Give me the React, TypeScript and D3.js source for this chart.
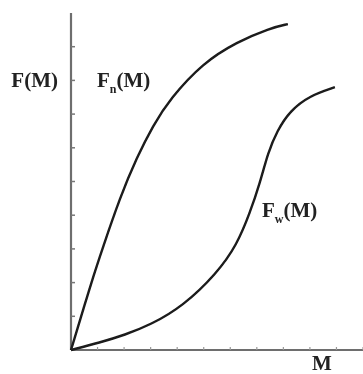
import { useEffect, useRef } from 'react';
import * as d3 from 'd3';

// Fn(M): rises fast from the origin, then levels off
const fnM = [0, 0.83, 1.17, 1.85, 2.49, 3.09, 3.73, 4.97, 6.25, 7.49, 8.17];
const fnF = [0, 2.17, 2.97, 4.54, 5.73, 6.66, 7.45, 8.52, 9.14, 9.55, 9.67];

// Fw(M): slow start, steep S-shaped rise later
const fwM = [0, 1.09, 2.03, 2.98, 4.22, 5.5, 6.25, 6.74, 7.12, 7.42, 7.76, 8.25, 9.0, 9.94];
const fwF = [0, 0.22, 0.45, 0.74, 1.3, 2.28, 3.12, 4.07, 4.96, 5.85, 6.5, 7.1, 7.55, 7.8];

const xTicks = [1, 2, 3, 4, 5, 6, 7, 8, 9, 10, 11];
const yTicks = [1, 2, 3, 4, 5, 6, 7, 8, 9];

export default function App() {
  const ref = useRef<SVGSVGElement | null>(null);

  useEffect(() => {
    if (!ref.current) return;
    const svg = d3.select(ref.current);
    svg.selectAll('*').remove();

    const W = 363;
    const H = 374;
    const x = d3.scaleLinear().domain([0, 11]).range([71, 363]);
    const y = d3.scaleLinear().domain([0, 10]).range([350, 13]);
    const font = "'Liberation Serif', 'DejaVu Serif', serif";

    svg.attr('width', W).attr('height', H);

    svg.append('defs')
      .append('filter')
      .attr('id', 'soft')
      .append('feGaussianBlur')
      .attr('stdDeviation', 0.6);

    const g = svg.append('g').attr('filter', 'url(#soft)');

    // Axes
    g.append('line')
      .attr('x1', x(0)).attr('x2', x(0))
      .attr('y1', y(0)).attr('y2', y(10))
      .attr('stroke', '#6e6e6e')
      .attr('stroke-width', 2.2);

    g.append('line')
      .attr('x1', x(0)).attr('x2', x(11))
      .attr('y1', y(0)).attr('y2', y(0))
      .attr('stroke', '#6e6e6e')
      .attr('stroke-width', 2.2);

    g.selectAll('.ytick')
      .data(yTicks)
      .enter()
      .append('line')
      .attr('x1', x(0)).attr('x2', x(0) + 4)
      .attr('y1', d => y(d)).attr('y2', d => y(d))
      .attr('stroke', '#777')
      .attr('stroke-width', 1.5);

    g.selectAll('.xtick')
      .data(xTicks)
      .enter()
      .append('line')
      .attr('x1', d => x(d)).attr('x2', d => x(d))
      .attr('y1', y(0)).attr('y2', y(0) - 3)
      .attr('stroke', '#999')
      .attr('stroke-width', 1.2);

    // Curves (B-spline to keep them smooth)
    const line = d3.line<[number, number]>()
      .x(d => x(d[0]))
      .y(d => y(d[1]))
      .curve(d3.curveBasis);

    const fnData = fnM.map((m, i) => [m, fnF[i]] as [number, number]);
    const fwData = fwM.map((m, i) => [m, fwF[i]] as [number, number]);

    [fnData, fwData].forEach(data => {
      g.append('path')
        .datum(data)
        .attr('fill', 'none')
        .attr('stroke', '#1a1a1a')
        .attr('stroke-width', 2.4)
        .attr('d', line);
    });

    // Labels
    const text = g.append('g')
      .attr('fill', '#222')
      .style('font-family', font)
      .style('font-size', '21px')
      .style('font-weight', 'bold');

    text.append('text')
      .attr('x', 58)
      .attr('y', y(8) + 7)
      .attr('text-anchor', 'end')
      .text('F(M)');

    const fn = text.append('text')
      .attr('x', 97)
      .attr('y', y(8) + 7);
    fn.append('tspan').text('F');
    fn.append('tspan').attr('dy', 6).style('font-size', '12px').text('n');
    fn.append('tspan').attr('dy', -6).text('(M)');

    const fw = text.append('text')
      .attr('x', 262)
      .attr('y', 217);
    fw.append('tspan').text('F');
    fw.append('tspan').attr('dy', 6).style('font-size', '12px').text('w');
    fw.append('tspan').attr('dy', -6).text('(M)');

    text.append('text')
      .attr('x', 322)
      .attr('y', 370)
      .attr('text-anchor', 'middle')
      .text('M');
  }, []);

  return (
    <svg
      ref={ref}
      style={{ position: 'absolute', left: 0, top: 0, background: '#fff' }}
    />
  );
}
